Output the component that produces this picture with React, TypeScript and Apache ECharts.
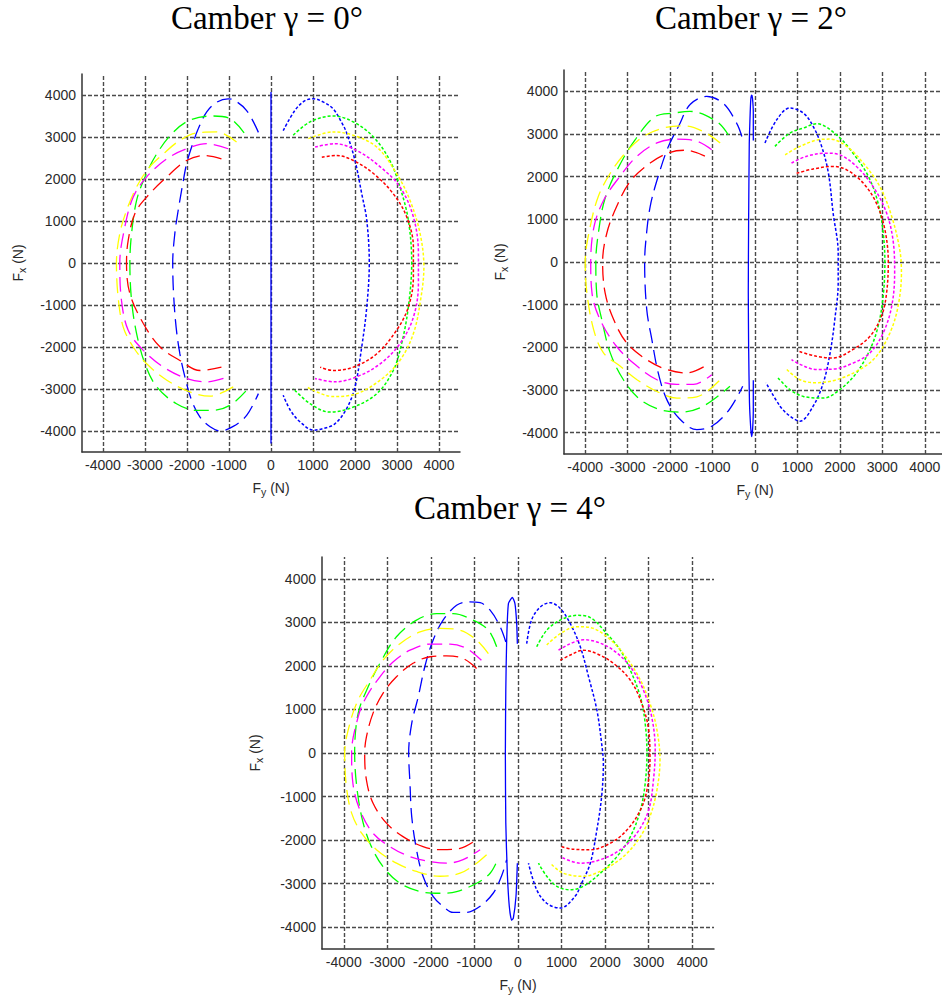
import React, { useEffect, useRef } from 'react';
import * as echarts from 'echarts';

// ---------- tick values & titles ----------
const gridTicks = [-4000, -3000, -2000, -1000, 0, 1000, 2000, 3000, 4000];
const titles = ['Camber \u03b3 = 0\u00b0', 'Camber \u03b3 = 2\u00b0', 'Camber \u03b3 = 4\u00b0'];

// ---------- camber 0 ----------
const g0Solid = [[0, -4300], [0, 4070]];
const g0BlueDash = [[-300, 3110], [-580, 3630], [-900, 3890], [-1020, 3910], [-1290, 3830], [-1530, 3600], [-1730, 3200], [-1890, 2760], [-2010, 2360], [-2100, 1890], [-2210, 1250], [-2290, 700], [-2340, 0], [-2320, -730], [-2260, -1520], [-2170, -2160], [-2050, -2710], [-1890, -3270], [-1690, -3670], [-1450, -3900], [-1210, -4000], [-900, -3890], [-580, -3630], [-300, -3110]];
const g0BlueDot = [[290, 3150], [560, 3620], [800, 3860], [1010, 3910], [1250, 3830], [1480, 3670], [1680, 3350], [1800, 3100], [2000, 2440], [2160, 1650], [2280, 1020], [2340, 0], [2280, -1050], [2160, -2000], [2000, -2950], [1800, -3470], [1520, -3830], [1250, -3940], [1010, -3980], [700, -3790], [470, -3520], [290, -3150]];
const g0GreenDash = [[-640, 3100], [-980, 3440], [-1400, 3500], [-1930, 3400], [-2330, 3110], [-2720, 2600], [-3000, 2050], [-3200, 1490], [-3320, 700], [-3360, 0], [-3320, -890], [-3200, -1680], [-2990, -2430], [-2720, -2950], [-2250, -3350], [-1770, -3510], [-1400, -3510], [-980, -3390], [-600, -3050]];
const g0YellowDash = [[-820, 2880], [-1290, 3120], [-1770, 3100], [-2170, 2920], [-2560, 2600], [-2920, 2250], [-3200, 1810], [-3440, 1250], [-3600, 700], [-3680, 0], [-3640, -810], [-3520, -1520], [-3280, -2000], [-2960, -2400], [-2480, -2790], [-1930, -3070], [-1450, -3170], [-900, -2950]];
const g0MagentaDash = [[-1020, 2720], [-1530, 2840], [-2010, 2720], [-2480, 2480], [-2960, 2050], [-3280, 1570], [-3480, 860], [-3600, 0], [-3560, -890], [-3400, -1600], [-3040, -2080], [-2560, -2480], [-2010, -2750], [-1530, -2830], [-1020, -2710]];
const g0RedDash = [[-1180, 2480], [-1570, 2560], [-2010, 2440], [-2480, 2050], [-2960, 1570], [-3240, 1180], [-3400, 540], [-3440, 0], [-3360, -730], [-3040, -1440], [-2640, -2000], [-2170, -2320], [-1690, -2560], [-1180, -2480]];
const g0GreenDot = [[530, 3040], [930, 3360], [1480, 3500], [1960, 3360], [2440, 3000], [2830, 2440], [3070, 1810], [3270, 1020], [3350, 0], [3270, -1050], [3110, -1920], [2910, -2560], [2520, -3110], [1960, -3430], [1400, -3550], [930, -3350], [530, -2990]];
const g0YellowDot = [[890, 2960], [1480, 3120], [1960, 3040], [2520, 2760], [2990, 2130], [3310, 1490], [3550, 700], [3640, -100], [3560, -890], [3390, -1680], [3070, -2320], [2600, -2790], [2040, -3110], [1480, -3180], [850, -2950]];
const g0MagentaDot = [[1050, 2760], [1520, 2840], [2040, 2680], [2600, 2290], [3070, 1810], [3390, 1100], [3510, 220], [3510, -490], [3390, -1290], [3070, -1920], [2600, -2400], [2040, -2710], [1520, -2830], [1050, -2750]];
const g0RedDot = [[1210, 2520], [1560, 2560], [1960, 2440], [2440, 2130], [2910, 1650], [3230, 1100], [3390, 380], [3390, -330], [3270, -1050], [2990, -1600], [2520, -2160], [1960, -2480], [1480, -2560], [1170, -2480]];

// ---------- camber 2 ----------
const g2Solid = [[-40, 2850], [-40, 3500], [-60, 3850], [-78, 3910], [-100, 3800], [-120, 3300], [-135, 2780], [-150, 1000], [-158, -700], [-150, -2000], [-130, -3300], [-100, -3900], [-78, -4090], [-55, -3900], [-40, -3500], [-40, -2770]];
const g2BlueDash = [[-310, 2940], [-430, 3250], [-750, 3720], [-1140, 3880], [-1530, 3690], [-1800, 3180], [-2040, 2710], [-2280, 2010], [-2470, 1300], [-2570, 520], [-2600, 0], [-2550, -1120], [-2430, -1820], [-2280, -2600], [-2080, -3220], [-1800, -3650], [-1370, -3930], [-1020, -3850], [-670, -3540], [-430, -3180], [-290, -2910]];
const g2BlueDot = [[235, 2790], [510, 3330], [820, 3610], [1140, 3490], [1370, 3180], [1570, 2710], [1730, 2080], [1840, 1150], [1960, 210], [1960, -490], [1880, -1350], [1770, -2130], [1610, -2830], [1370, -3380], [1060, -3730], [820, -3610], [590, -3380], [260, -2830]];
const g2GreenDash = [[-630, 2980], [-900, 3290], [-1530, 3530], [-1920, 3490], [-2330, 3420], [-2800, 2900], [-3200, 2250], [-3530, 1500], [-3690, 680], [-3750, 0], [-3730, -730], [-3610, -1350], [-3410, -2130], [-3100, -2760], [-2710, -3220], [-2240, -3460], [-1770, -3520], [-1220, -3380], [-590, -2910]];
const g2YellowDash = [[-820, 2790], [-1220, 3060], [-1690, 3190], [-2160, 3140], [-2630, 2940], [-3060, 2550], [-3410, 2080], [-3690, 1540], [-3880, 840], [-4000, 0], [-3960, -730], [-3800, -1590], [-3570, -2130], [-3180, -2440], [-2780, -2760], [-2240, -3070], [-1840, -3190], [-1370, -3160], [-820, -2760]];
const g2MagentaDash = [[-1020, 2630], [-1370, 2830], [-1840, 2880], [-2310, 2790], [-2780, 2480], [-3180, 2010], [-3560, 1460], [-3790, 840], [-3870, 0], [-3840, -730], [-3650, -1350], [-3260, -1980], [-2780, -2440], [-2310, -2760], [-1840, -2870], [-1450, -2870], [-1020, -2640]];
const g2RedDash = [[-1180, 2480], [-1610, 2620], [-2000, 2570], [-2470, 2320], [-2940, 1890], [-3260, 1300], [-3490, 680], [-3590, 0], [-3530, -730], [-3330, -1350], [-3020, -1900], [-2550, -2290], [-2080, -2520], [-1610, -2600], [-1180, -2440]];
const g2GreenDot = [[470, 2710], [820, 3020], [1140, 3140], [1450, 3240], [1920, 2980], [2310, 2550], [2670, 2010], [2900, 1380], [3020, 680], [3060, 0], [3020, -800], [2900, -1510], [2710, -2050], [2390, -2600], [2000, -2990], [1610, -3190], [1140, -3150], [820, -2990], [510, -2680]];
const g2YellowDot = [[710, 2510], [1060, 2710], [1530, 2870], [1760, 2880], [2160, 2710], [2550, 2320], [2940, 1770], [3220, 1070], [3410, 290], [3450, -260], [3370, -1040], [3180, -1660], [2860, -2210], [2470, -2520], [1920, -2760], [1450, -2830], [1060, -2760], [750, -2520]];
const g2MagentaDot = [[860, 2320], [1220, 2480], [1690, 2550], [2000, 2510], [2390, 2240], [2780, 1770], [3100, 1150], [3260, 450], [3290, -260], [3220, -1040], [3020, -1660], [2710, -2130], [2310, -2370], [1840, -2510], [1450, -2520], [1060, -2400], [860, -2290]];
const g2RedDot = [[980, 2080], [1370, 2180], [1840, 2240], [2160, 2160], [2550, 1850], [2860, 1380], [3060, 760], [3140, 0], [3100, -730], [2980, -1270], [2710, -1740], [2310, -2050], [1840, -2250], [1450, -2210], [1020, -2090]];

// ---------- camber 4 ----------
const g4Solid = [[-15, 2510], [-30, 2970], [-70, 3430], [-130, 3570], [-220, 3430], [-260, 2590], [-280, 1440], [-290, 0], [-280, -1610], [-245, -2760], [-200, -3520], [-146, -3840], [-107, -3790], [-46, -3290], [-15, -2530]];
const g4BlueDash = [[-280, 2550], [-410, 2900], [-640, 3280], [-870, 3450], [-1140, 3470], [-1410, 3390], [-1720, 3050], [-1950, 2590], [-2140, 1980], [-2290, 1290], [-2440, 680], [-2510, 0], [-2480, -700], [-2440, -1460], [-2330, -2220], [-2180, -2830], [-1950, -3290], [-1720, -3520], [-1490, -3660], [-1180, -3660], [-870, -3520], [-570, -3220], [-380, -2830], [-260, -2450]];
const g4BlueDot = [[200, 2510], [310, 3050], [510, 3350], [740, 3450], [970, 3320], [1200, 2970], [1430, 2440], [1620, 1750], [1810, 990], [1920, 220], [1960, -240], [1920, -1000], [1810, -1770], [1660, -2530], [1460, -2990], [1310, -3290], [970, -3560], [660, -3450], [430, -3140], [240, -2530]];
const g4GreenDash = [[-490, 2440], [-680, 2820], [-1030, 3050], [-1490, 3200], [-1870, 3200], [-2330, 3050], [-2790, 2670], [-3170, 2060], [-3440, 1520], [-3670, 910], [-3750, 0], [-3710, -700], [-3590, -1460], [-3400, -2070], [-3100, -2610], [-2710, -2990], [-2250, -3180], [-1790, -3220], [-1410, -3180], [-950, -2990], [-640, -2760], [-450, -2410]];
const g4YellowDash = [[-680, 2280], [-950, 2590], [-1330, 2820], [-1790, 2860], [-2250, 2780], [-2710, 2510], [-3100, 2130], [-3400, 1670], [-3670, 1220], [-3860, 680], [-3980, 0], [-3940, -770], [-3820, -1380], [-3590, -1840], [-3250, -2220], [-2790, -2530], [-2330, -2720], [-1790, -2830], [-1330, -2760], [-950, -2530], [-680, -2300]];
const g4MagentaDash = [[-840, 2130], [-1180, 2400], [-1560, 2500], [-2020, 2500], [-2480, 2360], [-2870, 2090], [-3170, 1750], [-3480, 1290], [-3670, 830], [-3820, 0], [-3790, -700], [-3630, -1310], [-3330, -1840], [-2940, -2150], [-2480, -2380], [-2020, -2490], [-1640, -2530], [-1260, -2450], [-870, -2220]];
const g4RedDash = [[-950, 1940], [-1260, 2170], [-1640, 2230], [-2020, 2210], [-2410, 2060], [-2790, 1750], [-3100, 1370], [-3330, 910], [-3480, 370], [-3520, 0], [-3480, -620], [-3330, -1150], [-3020, -1610], [-2640, -1920], [-2180, -2150], [-1790, -2220], [-1330, -2190], [-950, -1990]];
const g4GreenDot = [[430, 2440], [660, 2820], [970, 3050], [1350, 3160], [1660, 3110], [2040, 2740], [2350, 2360], [2580, 1900], [2810, 1290], [2920, 680], [2960, 0], [2920, -700], [2810, -1310], [2580, -1920], [2270, -2380], [1890, -2760], [1500, -3060], [1200, -3140], [890, -3060], [660, -2830], [470, -2530]];
const g4YellowDot = [[660, 2480], [970, 2740], [1350, 2900], [1660, 2880], [2040, 2670], [2420, 2280], [2770, 1750], [3030, 1140], [3190, 530], [3260, -160], [3190, -850], [3030, -1460], [2810, -1920], [2420, -2380], [1960, -2680], [1500, -2830], [1040, -2760], [740, -2530]];
const g4MagentaDot = [[930, 2360], [1200, 2510], [1500, 2600], [1810, 2550], [2190, 2360], [2580, 1980], [2880, 1440], [3070, 830], [3150, 70], [3110, -620], [3000, -1310], [2730, -1840], [2350, -2220], [1890, -2450], [1430, -2530], [970, -2380]];
const g4RedDot = [[970, 2130], [1200, 2250], [1500, 2360], [1810, 2280], [2190, 2060], [2580, 1670], [2840, 1140], [3000, 530], [3030, -160], [2960, -850], [2810, -1310], [2500, -1770], [2120, -2070], [1660, -2220], [1270, -2210], [1000, -2150]];

// ---------- styling ----------
const SANS = "'Liberation Sans', Arial, Helvetica, sans-serif";
const SERIF = "'Liberation Serif', 'Times New Roman', serif";
const C = { blue: '#0000ff', green: '#00ff00', yellow: '#ffff00', magenta: '#ff00ff', red: '#ff0000' };
const DASH: Record<string, any> = { solid: 'solid', dash: [15, 7], dot: [3, 2] };

type Curve = { data: number[][]; color: string; style: string };

const panels: { curves: Curve[] }[] = [
  {
    curves: [
      { data: g0Solid, color: C.blue, style: 'solid' },
      { data: g0BlueDash, color: C.blue, style: 'dash' },
      { data: g0GreenDash, color: C.green, style: 'dash' },
      { data: g0YellowDash, color: C.yellow, style: 'dash' },
      { data: g0MagentaDash, color: C.magenta, style: 'dash' },
      { data: g0RedDash, color: C.red, style: 'dash' },
      { data: g0BlueDot, color: C.blue, style: 'dot' },
      { data: g0GreenDot, color: C.green, style: 'dot' },
      { data: g0YellowDot, color: C.yellow, style: 'dot' },
      { data: g0MagentaDot, color: C.magenta, style: 'dot' },
      { data: g0RedDot, color: C.red, style: 'dot' },
    ],
  },
  {
    curves: [
      { data: g2Solid, color: C.blue, style: 'solid' },
      { data: g2BlueDash, color: C.blue, style: 'dash' },
      { data: g2GreenDash, color: C.green, style: 'dash' },
      { data: g2YellowDash, color: C.yellow, style: 'dash' },
      { data: g2MagentaDash, color: C.magenta, style: 'dash' },
      { data: g2RedDash, color: C.red, style: 'dash' },
      { data: g2BlueDot, color: C.blue, style: 'dot' },
      { data: g2GreenDot, color: C.green, style: 'dot' },
      { data: g2YellowDot, color: C.yellow, style: 'dot' },
      { data: g2MagentaDot, color: C.magenta, style: 'dot' },
      { data: g2RedDot, color: C.red, style: 'dot' },
    ],
  },
  {
    curves: [
      { data: g4Solid, color: C.blue, style: 'solid' },
      { data: g4BlueDash, color: C.blue, style: 'dash' },
      { data: g4GreenDash, color: C.green, style: 'dash' },
      { data: g4YellowDash, color: C.yellow, style: 'dash' },
      { data: g4MagentaDash, color: C.magenta, style: 'dash' },
      { data: g4RedDash, color: C.red, style: 'dash' },
      { data: g4BlueDot, color: C.blue, style: 'dot' },
      { data: g4GreenDot, color: C.green, style: 'dot' },
      { data: g4YellowDot, color: C.yellow, style: 'dot' },
      { data: g4MagentaDot, color: C.magenta, style: 'dot' },
      { data: g4RedDot, color: C.red, style: 'dot' },
    ],
  },
];

const layouts = [
  { grid: { left: 82, top: 74, width: 378, height: 378 }, tx: 267, ty: 18, yGap: 55 },
  { grid: { left: 564, top: 70, width: 382, height: 384 }, tx: 751, ty: 18, yGap: 55 },
  { grid: { left: 322, top: 557, width: 392, height: 392 }, tx: 510, ty: 508, yGap: 58 },
];

const labelColor = '#2a2a2a';
const rich = {
  a: { fontFamily: SANS, fontSize: 14, color: labelColor },
  s: { fontFamily: SANS, fontSize: 10.5, color: labelColor, padding: [8, 0, 0, 0] },
};

function buildOption() {
  const grid: any[] = [];
  const xAxis: any[] = [];
  const yAxis: any[] = [];
  const series: any[] = [];
  const graphic: any[] = [];

  const axisCommon = {
    type: 'value',
    min: -4500,
    max: 4500,
    interval: 500,
    axisLine: { show: true, onZero: false, lineStyle: { color: '#333', width: 1.5 } },
    axisTick: { show: false },
    splitLine: { show: false },
    nameLocation: 'middle',
    nameTextStyle: { rich },
  };
  const fmt = (v: number) => (Math.abs(v % 1000) < 1e-6 ? String(v) : '');
  const labelStyle = { formatter: fmt, color: labelColor, fontFamily: SANS, fontSize: 14, margin: 6 };

  layouts.forEach((L, i) => {
    grid.push({ ...L.grid, containLabel: false, outerBoundsMode: 'none' });
    xAxis.push({
      ...axisCommon,
      gridIndex: i,
      name: '{a|F}{s|y}{a| (N)}',
      nameGap: 26,
      axisLabel: labelStyle,
    });
    yAxis.push({
      ...axisCommon,
      gridIndex: i,
      name: '{a|F}{s|x}{a| (N)}',
      nameRotate: 90,
      nameGap: L.yGap,
      axisLabel: labelStyle,
    });
    // grid lines drawn through the axes' scales
    series.push({
      type: 'line',
      name: 'grid' + i,
      xAxisIndex: i,
      yAxisIndex: i,
      data: [],
      silent: true,
      z: 1,
      markLine: {
        silent: true,
        symbol: ['none', 'none'],
        z: 1,
        label: { show: false },
        emphasis: { disabled: true },
        lineStyle: { color: '#4a4a4a', width: 1.4, type: [4, 2] },
        data: [
          ...gridTicks.map((v) => ({ xAxis: v })),
          ...gridTicks.map((v) => ({ yAxis: v })),
        ],
      },
    });
    panels[i].curves.forEach((c, k) => {
      series.push({
        type: 'line',
        name: 'p' + i + 'c' + k,
        xAxisIndex: i,
        yAxisIndex: i,
        data: c.data,
        showSymbol: false,
        symbol: 'none',
        smooth: c.style === 'solid' ? 0.2 : 0.35,
        z: 3,
        silent: true,
        lineStyle: { color: c.color, width: c.style === 'dot' ? 1.5 : 1.3, type: DASH[c.style] },
      });
    });
    graphic.push({
      type: 'text',
      x: L.tx,
      y: L.ty,
      silent: true,
      style: {
        text: titles[i],
        font: `33px ${SERIF}`,
        fill: '#000',
        textAlign: 'center',
        textVerticalAlign: 'middle',
        align: 'center',
        verticalAlign: 'middle',
      },
    });
  });

  return {
    animation: false,
    backgroundColor: '#fff',
    grid,
    xAxis,
    yAxis,
    series,
    graphic,
  };
}

export default function App() {
  const ref = useRef<HTMLDivElement>(null);
  useEffect(() => {
    if (!ref.current) return;
    const chart = echarts.init(ref.current, undefined, { renderer: 'svg' });
    chart.setOption(buildOption() as any);
    return () => chart.dispose();
  }, []);
  return (
    <div
      ref={ref}
      style={{ position: 'absolute', left: 0, top: 0, width: 942, height: 997, background: '#fff' }}
    />
  );
}
